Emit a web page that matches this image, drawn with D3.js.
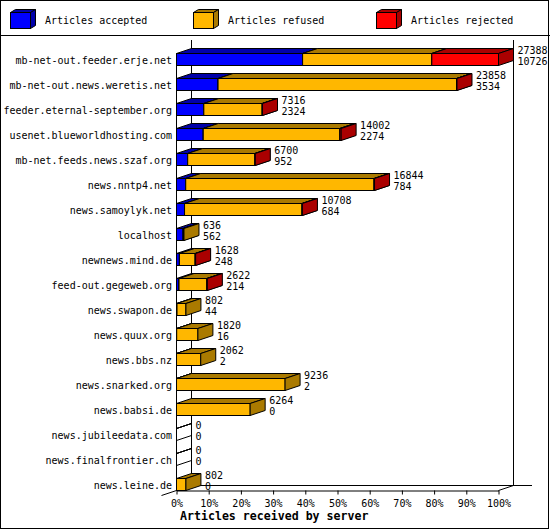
<!DOCTYPE html>
<html>
<head>
<meta charset="utf-8">
<script src="https://cdn.jsdelivr.net/npm/d3@7"></script>
<style>
  body { margin: 0; background: #fff; }
  text { font-family: "DejaVu Sans Mono", monospace; font-size: 10px; fill: #000; }
</style>
</head>
<body>
<div id="chart"></div>
<script>
// news servers, top to bottom
var hosts = [
  "mb-net-out.feeder.erje.net", "mb-net-out.news.weretis.net", "feeder.eternal-september.org",
  "usenet.blueworldhosting.com", "mb-net.feeds.news.szaf.org", "news.nntp4.net",
  "news.samoylyk.net", "localhost", "newnews.mind.de", "feed-out.gegeweb.org",
  "news.swapon.de", "news.quux.org", "news.bbs.nz", "news.snarked.org",
  "news.babsi.de", "news.jubileedata.com", "news.finalfrontier.ch", "news.leine.de"
];
var accepted = [10726, 3534, 2324, 2274, 952, 784, 684, 562, 248, 214, 44, 16, 2, 2, 0, 0, 0, 0];
var refused  = [10989, 20284, 4962, 11618, 5718, 16020, 9994, 74, 1340, 2368, 758, 1804, 2060, 9234, 6264, 0, 0, 802];
var rejected = [5673, 40, 30, 110, 30, 40, 30, 0, 40, 40, 0, 0, 0, 0, 0, 0, 0, 0];

var seriesKeys = ["accepted", "refused", "rejected"];
var seriesNames = ["Articles accepted", "Articles refused", "Articles rejected"];
var seriesColors = ["#0000ff", "#ffb700", "#ff0000"];
var shadeColors = ["#0000aa", "#aa7a00", "#aa0000"];
var tickValues = [0, 0.1, 0.2, 0.3, 0.4, 0.5, 0.6, 0.7, 0.8, 0.9, 1];
var xTitle = "Articles received by server";

var width = 550, height = 530;
var dx = 15, dy = 5;   // 3d depth of the bars

var rows = hosts.map(function (h, i) {
  return { host: h, accepted: accepted[i], refused: refused[i], rejected: rejected[i] };
});
var totals = rows.map(function (r) { return r.accepted + r.refused + r.rejected; });
var maxTotal = d3.max(totals);

var x = d3.scaleLinear().domain([0, maxTotal]).range([176.5, 498.5]);
var xPct = d3.scaleLinear().domain([0, 1]).range([176.5, 498.5]);
var y = d3.scaleBand().domain(hosts).range([40.5, 490.5])
  .paddingInner(0.52).paddingOuter(0.26).align(1);
var h = y.bandwidth();

var stacked = d3.stack().keys(seriesKeys)(rows);

var svg = d3.select("#chart").append("svg")
  .attr("width", width)
  .attr("height", height);

svg.append("rect")
  .attr("x", 0.5).attr("y", 0.5)
  .attr("width", width - 2).attr("height", height - 2)
  .attr("fill", "#fff").attr("stroke", "#000");

// legend
var legend = svg.append("g");
legend.append("line")
  .attr("x1", 0).attr("x2", width)
  .attr("y1", 35.5).attr("y2", 35.5)
  .attr("stroke", "#000");

var lg = legend.selectAll("g.item")
  .data(seriesNames)
  .enter().append("g")
  .attr("class", "item")
  .attr("transform", function (d, i) { return "translate(" + (10.5 + i * 183) + ",12.5)"; });

lg.append("polygon")
  .attr("points", "0,0 20,0 25,-3 5,-3")
  .attr("fill", function (d, i) { return shadeColors[i]; })
  .attr("stroke", "#000");
lg.append("polygon")
  .attr("points", "20,0 25,-3 25,13 20,16")
  .attr("fill", function (d, i) { return shadeColors[i]; })
  .attr("stroke", "#000");
lg.append("rect")
  .attr("width", 20).attr("height", 16)
  .attr("fill", function (d, i) { return seriesColors[i]; })
  .attr("stroke", "#000");
lg.append("text")
  .attr("x", 34.5).attr("y", 11)
  .text(function (d) { return d; });

// back wall
var x0 = x(0), x1 = xPct(1), yb = y.range()[1];
var axes = svg.append("g").attr("stroke", "#000").attr("fill", "none");
axes.append("line").attr("x1", x0 + dx).attr("x2", x0 + dx).attr("y1", 40).attr("y2", yb - dy);
axes.append("line").attr("x1", x1 + dx).attr("x2", x1 + dx).attr("y1", 40).attr("y2", yb - dy);
axes.append("line").attr("x1", x0 + dx).attr("x2", 532).attr("y1", yb - dy).attr("y2", yb - dy);
axes.append("line").attr("x1", x1).attr("x2", x1 + dx).attr("y1", yb).attr("y2", yb - dy);
axes.append("line").attr("x1", x0 - dx).attr("x2", x0).attr("y1", yb + dy).attr("y2", yb);
axes.append("line").attr("x1", x0).attr("x2", x0).attr("y1", y(hosts[0])).attr("y2", yb);

// bars
function box(g, a, b, top, fill, shade) {
  g.append("rect")
    .attr("x", a).attr("y", top)
    .attr("width", b - a).attr("height", h)
    .attr("fill", fill).attr("stroke", "#000");
  g.append("polygon")
    .attr("points", [[a, top], [b, top], [b + dx, top - dy], [a + dx, top - dy]].join(" "))
    .attr("fill", shade).attr("stroke", "#000");
  g.append("polygon")
    .attr("points", [[b, top], [b + dx, top - dy], [b + dx, top - dy + h], [b, top + h]].join(" "))
    .attr("fill", shade).attr("stroke", "#000");
}

var bars = svg.append("g");
rows.forEach(function (r, i) {
  var g = bars.append("g");
  var top = y(r.host);
  if (totals[i] === 0) {
    box(g, x(0), x(0), top, "none", "none");
  }
  stacked.forEach(function (layer, k) {
    var seg = layer[i];
    if (seg[1] - seg[0] <= 0) return;
    box(g, x(seg[0]), x(seg[1]), top, seriesColors[k], shadeColors[k]);
  });
  var lx = x(totals[i]) + dx + 4;
  g.append("text").attr("x", lx).attr("y", top + 0.5).text(totals[i]);
  g.append("text").attr("x", lx).attr("y", top + 11.5).text(r.accepted);
});

// category labels
svg.append("g").selectAll("text")
  .data(hosts)
  .enter().append("text")
  .attr("x", 172)
  .attr("y", function (d) { return y(d) + h / 2 + 4; })
  .attr("text-anchor", "end")
  .text(function (d) { return d; });

// x axis
var xAxis = svg.append("g")
  .attr("transform", "translate(0," + yb + ")")
  .call(d3.axisBottom(xPct)
    .tickValues(tickValues)
    .tickFormat(d3.format(".0%"))
    .tickSize(4)
    .tickSizeOuter(0)
    .tickPadding(5));
xAxis.select(".domain").attr("stroke", "#000");
xAxis.selectAll(".tick line").attr("stroke", "#000");
xAxis.selectAll(".tick text")
  .attr("font-family", "DejaVu Sans Mono")
  .attr("font-size", 10)
  .attr("fill", "#000");

svg.append("text")
  .attr("x", 180)
  .attr("y", 520)
  .style("font-size", "11.6px")
  .style("font-weight", "bold")
  .text(xTitle);
</script>
</body>
</html>
